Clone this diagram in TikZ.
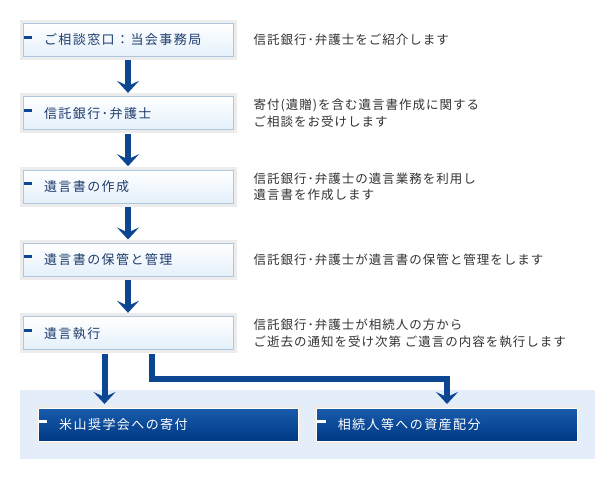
\documentclass[tikz,border=0pt]{standalone}
\usepackage{fontspec}
\newfontfamily\jpbox[LetterSpace=11]{Noto Sans CJK JP}
\newfontfamily\jpnote[LetterSpace=8]{Noto Sans CJK JP}
\usetikzlibrary{positioning,arrows.meta}
\definecolor{flBlue}{RGB}{12,70,144}
\definecolor{flFrame}{RGB}{236,236,236}
\definecolor{flEdge}{RGB}{176,198,220}
\definecolor{flLight}{RGB}{228,240,250}
\definecolor{flText}{RGB}{30,60,110}
\definecolor{flNote}{RGB}{50,50,50}
\definecolor{flBack}{RGB}{228,238,250}
\definecolor{flDarkTop}{RGB}{24,92,172}
\definecolor{flDarkBot}{RGB}{0,56,132}

\begin{document}
\begin{tikzpicture}[
    x=1pt, y=-1pt,
    node distance=39.5pt,
    stepbox/.style={rectangle, draw=flEdge, line width=0.8pt, top color=white, bottom color=flLight,
      preaction={draw=flFrame, line width=7pt}, minimum height=33pt, text width=168pt,
      inner xsep=21pt, inner ysep=0pt, align=left, text=flText, font=\jpbox\fontsize{13}{15}\selectfont,
      path picture={\fill[flBlue] ([yshift=-12pt]path picture bounding box.north west) rectangle ++(9pt,-3pt);}},
    endbox/.style={rectangle, draw=white, line width=1pt, top color=flDarkTop, bottom color=flDarkBot,
      preaction={draw=flFrame, line width=6pt}, minimum height=33pt, text width=218.5pt,
      inner xsep=21pt, inner ysep=0pt, align=left, text=white, font=\jpbox\fontsize{13}{15}\selectfont,
      path picture={\fill[white] ([yshift=-12pt]path picture bounding box.north west) rectangle ++(9pt,-3pt);}},
    note/.style={inner sep=0pt, align=left, text=flNote, font=\jpnote\fontsize{12.5}{16.5}\selectfont},
    flow/.style={draw=flBlue, line width=6pt, -{Stealth[width=22pt,length=12pt,inset=5pt]},
      shorten <=3.5pt, shorten >=3.5pt}
]
  \useasboundingbox (0,0) rectangle (614,480);
  \fill[flBack] (20,390) rectangle (595,459);

  % steps
  \node[stepbox] (b1) at (128,40) {ご相談窓口：当会事務局};
  \node[stepbox] (b2) [below=of b1] {信託銀行･弁護士};
  \node[stepbox] (b3) [below=of b2] {遺言書の作成};
  \node[stepbox] (b4) [below=of b3] {遺言書の保管と管理};
  \node[stepbox] (b5) [below=of b4] {遺言執行};

  \node[endbox] (b6) at (168.5,424.5) {米山奨学会への寄付};
  \node[endbox] (b7) [right=17pt of b6] {相続人等への資産配分};

  % notes
  \node[note] (n1) [right=20pt of b1] {信託銀行･弁護士をご紹介します};
  \node[note] (n2) [right=20pt of b2] {寄付(遺贈)を含む遺言書作成に関する\\ご相談をお受けします};
  \node[note] (n3) [right=20pt of b3] {信託銀行･弁護士の遺言業務を利用し\\遺言書を作成します};
  \node[note] (n4) [right=20pt of b4] {信託銀行･弁護士が遺言書の保管と管理をします};
  \node[note] (n5) [right=20pt of b5] {信託銀行･弁護士が相続人の方から\\ご逝去の通知を受け次第 ご遺言の内容を執行します};

  \draw[flow] (b1) -- (b2);
  \draw[flow] (b2) -- (b3);
  \draw[flow] (b3) -- (b4);
  \draw[flow] (b4) -- (b5);
  \draw[flow] ([xshift=-23.5pt]b5.south) -- ([xshift=-23.5pt]b5.south |- b6.north);
  \draw[flow] ([xshift=23.5pt]b5.south) -- ++(0,28.5) -| (b7.north);
\end{tikzpicture}
\end{document}
